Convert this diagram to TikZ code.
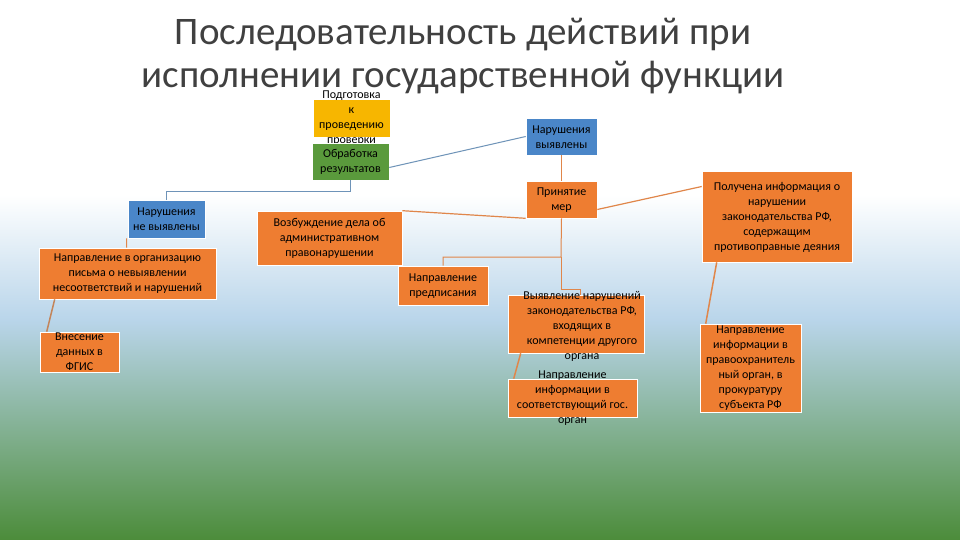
\documentclass[tikz,border=0pt]{standalone}
\usepackage{fontspec}
\setmainfont{Carlito}
\usetikzlibrary{calc}
\begin{document}
\begin{tikzpicture}[x=1pt,y=-1pt,
 bx/.style={draw=white,line width=0.6pt,fill=#1,inner sep=0pt},
 txt/.style={align=center,font=\fontsize{12}{15}\selectfont,inner sep=0pt,text=black}]
\definecolor{org}{HTML}{EE7D31}
\definecolor{ylw}{HTML}{F7B600}
\definecolor{grn}{HTML}{5A9A3C}
\definecolor{blu}{HTML}{4A86C8}
\definecolor{lb}{HTML}{B9D5EA}
\definecolor{bg}{HTML}{4C8C3A}
\definecolor{ln}{HTML}{E0864A}
\definecolor{bl}{HTML}{6E93B8}
\useasboundingbox (0,0) rectangle (960,540);
\fill[white] (0,0) rectangle (960,195);
\shade[top color=white,bottom color=lb] (0,195) rectangle (960,320);
\shade[top color=lb,bottom color=bg] (0,320) rectangle (960,540);
\node[font=\fontsize{39}{43}\selectfont,text=black!75,align=center] (title) at (463,56) {Последовательность действий при\\исполнении государственной функции};
% boxes
\node[bx=ylw,minimum width=77,minimum height=38] (pod) at (351.5,118) {};
\node[txt] at (351.5,118) {Подготовка\\к\\проведению\\проверки};
\node[bx=grn,minimum width=77,minimum height=37] (obr) at (350.5,161.5) {};
\node[txt] at (350.5,162) {Обработка\\результатов};
\node[bx=blu,minimum width=71,minimum height=37] (nv) at (561.5,136.5) {};
\node[txt] at (561.5,137) {Нарушения\\выявлены};
\node[bx=org,minimum width=71,minimum height=37] (pm) at (561.5,199.5) {};
\node[txt] at (561.5,200) {Принятие\\мер};
\node[bx=org,minimum width=150,minimum height=91] (poi) at (777,216.5) {};
\node[txt] at (777,217) {Получена информация о\\нарушении\\законодательства РФ,\\содержащим\\противоправные деяния};
\node[bx=blu,minimum width=77,minimum height=38] (nnv) at (166.5,219) {};
\node[txt] at (166.5,219.5) {Нарушения\\не выявлены};
\node[bx=org,minimum width=177,minimum height=51] (npo) at (127.5,273.5) {};
\node[txt] at (127.5,274) {Направление в организацию\\письма о невыявлении\\несоответствий и нарушений};
\node[bx=org,minimum width=79,minimum height=40] (vd) at (79.5,352) {};
\node[txt] at (79.5,352) {Внесение\\данных в\\ФГИС};
\node[bx=org,minimum width=145,minimum height=54] (vozb) at (329.5,238) {};
\node[txt] at (329.5,238.5) {Возбуждение дела об\\административном\\правонарушении};
\node[bx=org,minimum width=90,minimum height=39] (npr) at (443,285.5) {};
\node[txt] at (443,286) {Направление\\предписания};
\node[bx=org,minimum width=136,minimum height=58] (vyy) at (576,324) {};
\node[txt] at (582,326) {Выявление нарушений\\законодательства РФ,\\входящих в\\компетенции другого\\органа};
\node[bx=org,minimum width=129,minimum height=38] (ninf) at (572.5,398) {};
\node[txt] at (572.5,398) {Направление\\информации в\\соответствующий гос.\\орган};
\node[bx=org,minimum width=101,minimum height=88] (npra) at (750.5,368) {};
\node[txt] at (750.5,368) {Направление\\информации в\\правоохранитель\\ный орган, в\\прокуратуру\\субъекта РФ};
\coordinate (j1) at (561,257);
\coordinate (j2) at (561,289);
% connectors
\draw[draw=bl,line width=1pt] ($(obr.east)+(0,6)$) -- (nv.west);
\draw[draw=bl,line width=1pt] (obr.south) -- ++(0,11) -| (nnv.north);
\draw[draw=ln,line width=1pt] ($(nnv.south west)+(-1,0)$) -- ($(npo.north)+(-1,0)$ |- npo.north);
\draw[draw=ln!70!gray,line width=1.5pt] ($(npo.south west)+(16,0)$) -- ($(vd.north west)+(7,0)$);
\draw[draw=ln,line width=1pt] (nv.south) -- (pm.north);
\draw[draw=ln,line width=1.2pt] (vozb.north east) -- (pm.south west);
\draw[draw=ln,line width=1.2pt] ($(pm.east)+(0,10)$) -- ($(poi.west)+(0,-30)$);
\draw[draw=ln,line width=1pt] (pm.south) -- (j1) -| (npr.north);
\draw[draw=ln,line width=1pt] (j1) -- (j2) -| ($(vyy.north)+(4,0)$);
\draw[draw=ln,line width=1.5pt] ($(poi.south west)+(15,0)$) -- ($(npra.north west)+(6,0)$);
\draw[draw=ln,line width=1.5pt] ($(vyy.south west)+(13,0)$) -- ($(ninf.north west)+(6,0)$);
\end{tikzpicture}
\end{document}
